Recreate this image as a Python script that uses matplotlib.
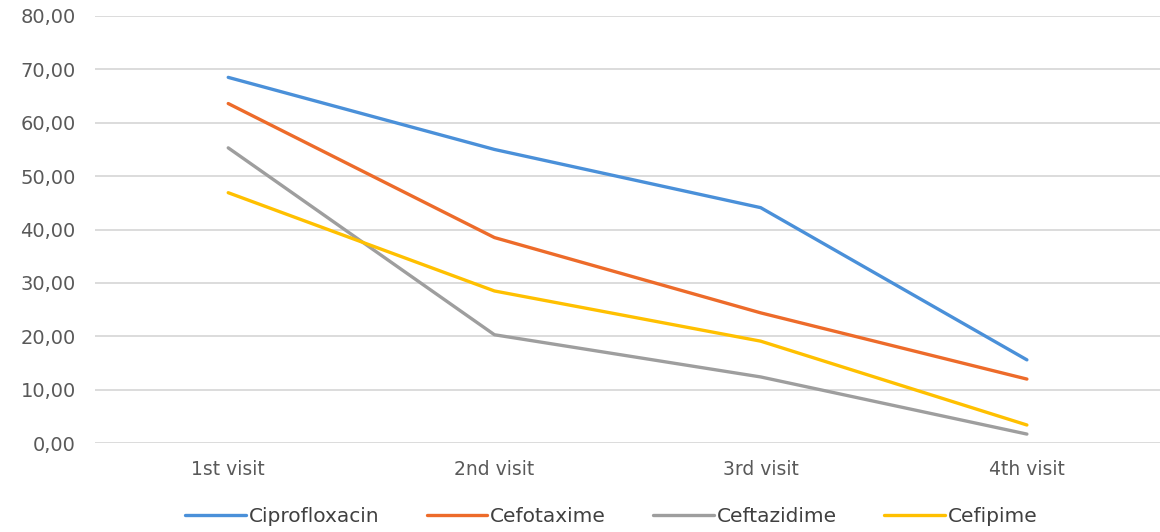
import matplotlib.pyplot as plt
from matplotlib.ticker import FuncFormatter

visits = ['1st visit', '2nd visit', '3rd visit', '4th visit']
ciprofloxacin = [68.5, 55.0, 44.1, 15.6]
cefotaxime = [63.6, 38.5, 24.4, 12.0]
ceftazidime = [55.3, 20.3, 12.4, 1.7]
cefipime = [46.9, 28.5, 19.1, 3.4]

series = [
    ('Ciprofloxacin', ciprofloxacin, '#4A90D9'),
    ('Cefotaxime', cefotaxime, '#ED6B2A'),
    ('Ceftazidime', ceftazidime, '#9E9E9E'),
    ('Cefipime', cefipime, '#FFC000'),
]

plt.rcParams['font.family'] = ['DejaVu Sans']

fig = plt.figure(figsize=(11.6, 5.32), dpi=100)
ax = fig.add_axes([0.082, 0.167, 0.918, 0.803])

x = range(len(visits))
for name, vals, color in series:
    ax.plot(x, vals, color=color, linewidth=2.4, label=name, solid_capstyle='round')

ax.set_xlim(-0.5, 3.5)
ax.set_ylim(0, 80)
ax.set_yticks(range(0, 81, 10))
ax.yaxis.set_major_formatter(FuncFormatter(lambda v, p: f'{v:.2f}'.replace('.', ',')))
ax.set_xticks(list(x))
ax.set_xticklabels(visits)
ax.grid(axis='y', color='#D9D9D9', linewidth=1.3)
ax.set_axisbelow(True)
for s in ax.spines.values():
    s.set_visible(False)
ax.tick_params(axis='both', length=0, colors='#595959')
ax.tick_params(axis='y', pad=14, labelsize=14)
ax.tick_params(axis='x', pad=12, labelsize=13.5)

fig.legend(loc='lower center', ncol=4, frameon=False, fontsize=14.5,
           handlelength=3.0, columnspacing=2.35, handletextpad=0.15,
           bbox_to_anchor=(0.527, -0.022), labelcolor='#404040')

fig.savefig('out.png', dpi=100)
